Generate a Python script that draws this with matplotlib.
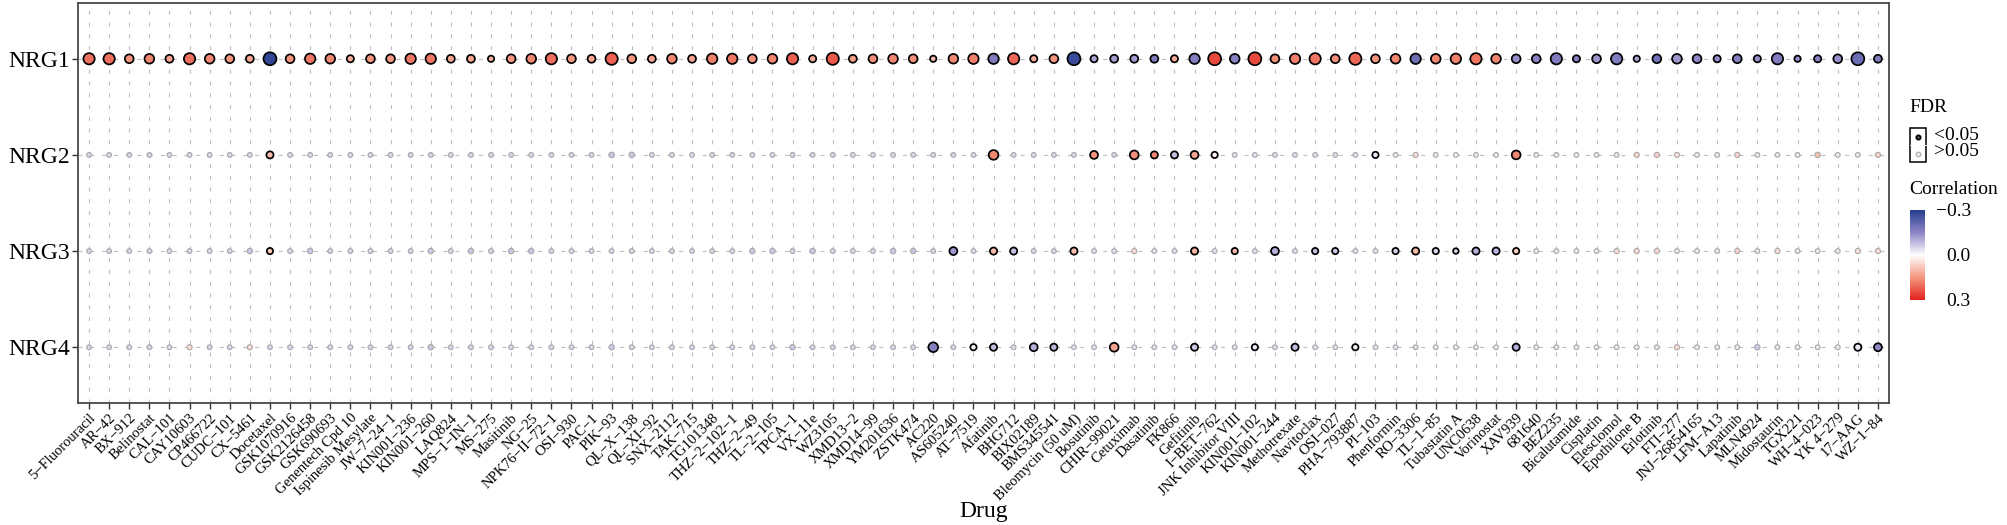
import numpy as np
import matplotlib
matplotlib.use("Agg")
import matplotlib.pyplot as plt
from matplotlib.colors import LinearSegmentedColormap, Normalize
from matplotlib.patches import Rectangle

plt.rcParams['font.family'] = ['Liberation Serif', 'DejaVu Serif']

drugs = ["5-Fluorouracil", "AR-42", "BX-912", "Belinostat", "CAL-101", "CAY10603", "CP466722",
         "CUDC-101", "CX-5461", "Docetaxel", "GSK1070916", "GSK2126458", "GSK690693",
         "Genentech Cpd 10", "Ispinesib Mesylate", "JW-7-24-1", "KIN001-236", "KIN001-260",
         "LAQ824", "MPS-1-IN-1", "MS-275", "Masitinib", "NG-25", "NPK76-II-72-1", "OSI-930",
         "PAC-1", "PIK-93", "QL-X-138", "QL-XI-92", "SNX-2112", "TAK-715", "TG101348",
         "THZ-2-102-1", "THZ-2-49", "TL-2-105", "TPCA-1", "VX-11e", "WZ3105", "XMD13-2",
         "XMD14-99", "YM201636", "ZSTK474", "AC220", "AS605240", "AT-7519", "Afatinib",
         "BHG712", "BIX02189", "BMS345541", "Bleomycin (50 uM)", "Bosutinib", "CHIR-99021",
         "Cetuximab", "Dasatinib", "FK866", "Gefitinib", "I-BET-762", "JNK Inhibitor VIII",
         "KIN001-102", "KIN001-244", "Methotrexate", "Navitoclax", "OSI-027", "PHA-793887",
         "PI-103", "Phenformin", "RO-3306", "TL-1-85", "Tubastatin A", "UNC0638", "Vorinostat",
         "XAV939", "681640", "BEZ235", "Bicalutamide", "Cisplatin", "Elesclomol", "Epothilone B",
         "Erlotinib", "FTI-277", "JNJ-26854165", "LFM-A13", "Lapatinib", "MLN4924", "Midostaurin",
         "TGX221", "WH-4-023", "YK 4-279", "17-AAG", "WZ-1-84"]
genes = ["NRG1", "NRG2", "NRG3", "NRG4"]

# correlation (colour)
corr_nrg1 = [0.20, 0.20, 0.15, 0.17, 0.13, 0.20, 0.17, 0.15, 0.13, -0.28,
             0.15, 0.19, 0.17, 0.12, 0.15, 0.15, 0.19, 0.19, 0.13, 0.13,
             0.11, 0.15, 0.17, 0.20, 0.15, 0.13, 0.22, 0.15, 0.13, 0.17,
             0.13, 0.18, 0.19, 0.15, 0.17, 0.22, 0.12, 0.23, 0.14, 0.16,
             0.17, 0.16, 0.10, 0.17, 0.18, -0.17, 0.21, 0.12, 0.15, -0.27,
             -0.11, -0.12, -0.12, -0.17, 0.12, -0.17, 0.25, -0.16, 0.25, 0.16,
             0.18, 0.19, 0.16, 0.21, 0.15, 0.17, -0.20, 0.17, 0.18, 0.19,
             0.17, -0.14, -0.16, -0.17, -0.16, -0.13, -0.17, -0.11, -0.19, -0.13,
             -0.15, -0.14, -0.16, -0.14, -0.17, -0.14, -0.16, -0.14, -0.20, -0.17]
corr_nrg2 = [-0.05, -0.05, -0.05, -0.05, -0.05, -0.05, -0.05, -0.05, -0.05, 0.10,
             -0.05, -0.05, -0.05, -0.05, -0.05, -0.05, -0.05, -0.05, -0.05, -0.05,
             -0.05, -0.05, -0.05, -0.05, -0.05, -0.05, -0.07, -0.07, -0.05, -0.05,
             -0.05, -0.05, -0.05, -0.05, -0.05, -0.05, -0.05, -0.05, -0.05, -0.05,
             -0.05, -0.05, -0.05, -0.05, -0.05, 0.17, -0.05, -0.05, -0.05, -0.05,
             0.15, -0.05, 0.16, 0.17, -0.08, 0.13, 0.02, -0.04, -0.04, -0.04,
             -0.04, -0.04, -0.04, -0.04, -0.03, -0.03, 0.05, -0.03, -0.03, -0.03,
             -0.03, 0.17, -0.03, -0.03, -0.03, -0.03, -0.03, 0.06, 0.07, 0.04,
             -0.03, -0.03, 0.06, -0.03, -0.03, -0.03, 0.09, -0.03, -0.03, 0.07]
corr_nrg3 = [-0.05, -0.05, -0.05, -0.05, -0.05, -0.05, -0.05, -0.05, -0.07, 0.08,
             -0.05, -0.07, -0.05, -0.05, -0.05, -0.05, -0.05, -0.07, -0.05, -0.07,
             -0.05, -0.07, -0.07, -0.05, -0.05, -0.05, -0.05, -0.05, -0.05, -0.05,
             -0.05, -0.05, -0.05, -0.07, -0.07, -0.05, -0.07, -0.05, -0.05, -0.05,
             -0.07, -0.07, -0.05, -0.13, -0.05, 0.10, -0.08, -0.05, -0.05, 0.10,
             -0.04, -0.04, 0.05, -0.04, -0.04, 0.11, -0.04, 0.10, -0.04, -0.10,
             -0.04, -0.08, -0.07, -0.04, -0.04, -0.06, 0.10, -0.05, -0.05, -0.10,
             -0.09, 0.07, -0.03, -0.03, -0.03, -0.03, 0.05, 0.05, 0.06, -0.03,
             -0.03, -0.03, 0.06, -0.03, 0.05, -0.03, -0.03, -0.03, 0.04, 0.05]
corr_nrg4 = [-0.05, -0.05, -0.05, -0.05, -0.05, 0.05, -0.05, -0.05, 0.05, -0.05,
             -0.05, -0.05, -0.05, -0.05, -0.05, -0.05, -0.05, -0.07, -0.05, -0.05,
             -0.05, -0.05, -0.05, -0.05, -0.05, -0.05, -0.07, -0.05, -0.05, -0.05,
             -0.05, -0.05, -0.05, -0.05, -0.05, -0.07, -0.05, -0.05, -0.05, -0.05,
             -0.05, -0.05, -0.16, -0.05, -0.02, -0.08, -0.04, -0.10, -0.09, -0.04,
             -0.04, 0.13, -0.04, -0.04, -0.04, -0.07, -0.04, -0.04, -0.03, -0.04,
             -0.08, -0.04, -0.04, -0.02, -0.04, -0.04, -0.04, -0.03, -0.03, -0.03,
             -0.03, -0.10, -0.03, -0.03, -0.03, -0.03, -0.03, -0.03, -0.03, 0.05,
             -0.03, -0.03, -0.03, -0.07, -0.03, -0.03, -0.03, -0.03, -0.03, -0.15]

# -log10(p) (dot size)
nlogp_nrg1 = [6.0, 6.0, 4.0, 4.7, 3.3, 6.0, 4.7, 4.0, 3.3, 7.3,
              4.0, 5.3, 4.7, 2.7, 4.0, 4.0, 5.3, 5.3, 3.3, 3.3,
              2.0, 4.0, 4.7, 6.0, 4.0, 3.3, 6.7, 4.0, 3.3, 4.7,
              3.3, 5.3, 5.3, 4.0, 4.7, 6.0, 2.7, 6.7, 3.3, 4.0,
              4.7, 4.0, 2.0, 4.7, 5.3, 5.3, 6.0, 2.7, 4.0, 7.3,
              2.7, 3.3, 3.3, 3.3, 2.7, 5.3, 7.3, 4.7, 7.3, 4.0,
              5.3, 6.0, 4.0, 6.7, 4.0, 4.7, 5.3, 4.7, 5.3, 6.0,
              4.7, 4.0, 4.0, 6.0, 2.7, 4.0, 6.0, 2.0, 4.0, 4.7,
              4.0, 2.7, 4.0, 2.7, 6.0, 2.0, 2.7, 4.0, 7.3, 3.3]
nlogp_nrg2 = [0.3, 0.3, 0.3, 0.3, 0.3, 0.3, 0.3, 0.3, 0.3, 2.7,
              0.3, 0.3, 0.3, 0.3, 0.3, 0.3, 0.3, 0.3, 0.3, 0.3,
              0.3, 0.3, 0.3, 0.3, 0.3, 0.3, 0.9, 0.9, 0.3, 0.3,
              0.3, 0.3, 0.3, 0.3, 0.3, 0.3, 0.3, 0.3, 0.3, 0.3,
              0.3, 0.3, 0.3, 0.3, 0.3, 4.7, 0.3, 0.3, 0.3, 0.3,
              3.3, 0.3, 4.0, 2.7, 2.7, 3.3, 2.0, 0.3, 0.3, 0.3,
              0.3, 0.3, 0.3, 0.3, 2.0, 0.3, 0.6, 0.3, 0.3, 0.3,
              0.3, 4.0, 0.3, 0.3, 0.3, 0.3, 0.3, 0.6, 0.6, 0.5,
              0.3, 0.3, 0.6, 0.3, 0.3, 0.3, 0.8, 0.3, 0.3, 0.6]
nlogp_nrg3 = [0.3, 0.3, 0.3, 0.3, 0.3, 0.3, 0.3, 0.3, 0.8, 2.0,
              0.3, 0.8, 0.3, 0.3, 0.3, 0.3, 0.3, 0.8, 0.3, 0.8,
              0.3, 0.8, 0.8, 0.3, 0.3, 0.3, 0.3, 0.3, 0.3, 0.3,
              0.3, 0.3, 0.3, 0.8, 0.8, 0.3, 0.8, 0.3, 0.3, 0.3,
              0.8, 0.8, 0.3, 3.3, 0.3, 2.7, 2.7, 0.3, 0.3, 2.7,
              0.3, 0.3, 0.6, 0.3, 0.3, 2.7, 0.3, 2.0, 0.3, 3.3,
              0.3, 2.0, 2.0, 0.3, 0.3, 2.0, 2.7, 2.0, 1.4, 2.7,
              2.7, 2.0, 0.3, 0.3, 0.3, 0.3, 0.6, 0.6, 0.6, 0.3,
              0.3, 0.3, 0.6, 0.3, 0.6, 0.3, 0.3, 0.3, 0.6, 0.6]
nlogp_nrg4 = [0.3, 0.3, 0.3, 0.3, 0.3, 0.6, 0.3, 0.3, 0.6, 0.3,
              0.3, 0.3, 0.3, 0.3, 0.3, 0.3, 0.3, 0.8, 0.3, 0.3,
              0.3, 0.3, 0.3, 0.3, 0.3, 0.3, 0.8, 0.3, 0.3, 0.3,
              0.3, 0.3, 0.3, 0.3, 0.3, 0.8, 0.3, 0.3, 0.3, 0.3,
              0.3, 0.3, 4.7, 0.3, 2.0, 2.7, 0.3, 3.3, 2.7, 0.3,
              0.3, 4.0, 0.3, 0.3, 0.3, 2.7, 0.3, 0.3, 2.0, 0.3,
              2.7, 0.3, 0.3, 2.0, 0.3, 0.3, 0.3, 0.3, 0.3, 0.3,
              0.3, 2.7, 0.3, 0.3, 0.3, 0.3, 0.3, 0.3, 0.3, 0.6,
              0.3, 0.3, 0.3, 0.8, 0.3, 0.3, 0.3, 0.3, 2.7, 3.3]

# drugs with FDR < 0.05 (index into drugs)
sig_nrg1 = list(range(90))
sig_nrg2 = [9, 45, 50, 52, 53, 54, 55, 56, 64, 71]
sig_nrg3 = [9, 43, 45, 46, 49, 55, 57, 59, 61, 62, 65, 66, 67, 68, 69, 70, 71]
sig_nrg4 = [42, 44, 45, 47, 48, 51, 55, 58, 60, 63, 71, 88, 89]

corrs = [corr_nrg1, corr_nrg2, corr_nrg3, corr_nrg4]
nlogps = [nlogp_nrg1, nlogp_nrg2, nlogp_nrg3, nlogp_nrg4]
sigs = [sig_nrg1, sig_nrg2, sig_nrg3, sig_nrg4]

cmap = LinearSegmentedColormap.from_list(
    "corr", [(0.0, "#263D8F"), (0.25, "#8E86C6"), (0.5, "#FFFFFF"),
             (0.75, "#F4977F"), (1.0, "#E3211C")])
norm = Normalize(-0.3, 0.3)

DPI = 100
fig = plt.figure(figsize=(20.08, 5.25), dpi=DPI)
W, H = 2008, 525
ax = fig.add_axes([78 / W, 1 - 403 / H, (1889 - 78) / W, (403 - 3) / H])

x = np.arange(len(drugs))


def size_of(nlogp, edge_px):
    # outer diameter in pixels grows with -log10(p)
    d_px = 5.5 + 1.25 * np.asarray(nlogp) - edge_px
    return (d_px * 72.0 / DPI) ** 2


for gi, gene in enumerate(genes):
    yv = np.full(len(drugs), 4 - gi)
    c = np.asarray(corrs[gi])
    p = np.asarray(nlogps[gi])
    is_sig = np.zeros(len(drugs), dtype=bool)
    is_sig[sigs[gi]] = True
    ns = ~is_sig
    ax.scatter(x[ns], yv[ns], s=size_of(p[ns], 1.1), c=c[ns], cmap=cmap, norm=norm,
               edgecolors="#A8A8A8", linewidths=0.8, zorder=3)
    ax.scatter(x[is_sig], yv[is_sig], s=size_of(p[is_sig], 1.7), c=c[is_sig], cmap=cmap,
               norm=norm, edgecolors="black", linewidths=1.25, zorder=4)

ax.set_xlim(-0.55, len(drugs) - 0.45)
ax.set_ylim(0.42, 4.58)
ax.set_xticks(x)
ax.set_xticklabels([d.replace("-", "\u2212") for d in drugs], rotation=45, ha="right",
                   va="top", rotation_mode="anchor", fontsize=10.5)
ax.set_yticks([4, 3, 2, 1])
ax.set_yticklabels(genes, fontsize=17)
ax.tick_params(length=4, width=1, color="#333333", pad=2)
ax.grid(True, linestyle=(0, (3.6, 7.0)), color="#BDBDBD", linewidth=0.8)
ax.set_axisbelow(True)
for sp in ax.spines.values():
    sp.set_color("#4D4545")
    sp.set_linewidth(1.3)
ax.set_xlabel("Drug", fontsize=17, va="center")
ax.xaxis.set_label_coords(0.5, (403 - 512) / 400)

# legend overlay in pixel coordinates
lg = fig.add_axes([0, 0, 1, 1], zorder=5)
lg.set_xlim(0, W)
lg.set_ylim(H, 0)
lg.axis("off")
lg.text(1909, 108, "FDR", fontsize=14, va="center", ha="left")
lg.add_patch(Rectangle((1910, 128), 16, 34, fill=False, edgecolor="black", lw=1.1))
lg.plot([1910, 1926], [145, 145], color="white", lw=0.6)
lg.scatter([1918], [136.5], s=size_of(0.4, 1.7), c=["#555555"], edgecolors="black",
           linewidths=1.25)
lg.scatter([1918], [153.5], s=size_of(0.2, 1.1), c=["#EDEDED"], edgecolors="#A8A8A8",
           linewidths=0.8)
lg.text(1934, 135, "<0.05", fontsize=14, va="center", ha="left")
lg.text(1934, 151, ">0.05", fontsize=14, va="center", ha="left")
lg.text(1909, 190, "Correlation", fontsize=14, va="center", ha="left")

cax = fig.add_axes([1910 / W, 1 - 300 / H, 15 / W, 90 / H])
cb = fig.colorbar(plt.cm.ScalarMappable(norm=norm, cmap=cmap), cax=cax)
cb.outline.set_visible(False)
cb.set_ticks([-0.3, 0.0, 0.3])
cb.set_ticklabels(["\u22120.3", "0.0", "0.3"])
cax.invert_yaxis()
cax.tick_params(length=0, pad=33, labelsize=14)
for t in cax.get_yticklabels():
    t.set_ha("right")

fig.savefig("out.png", dpi=DPI)
